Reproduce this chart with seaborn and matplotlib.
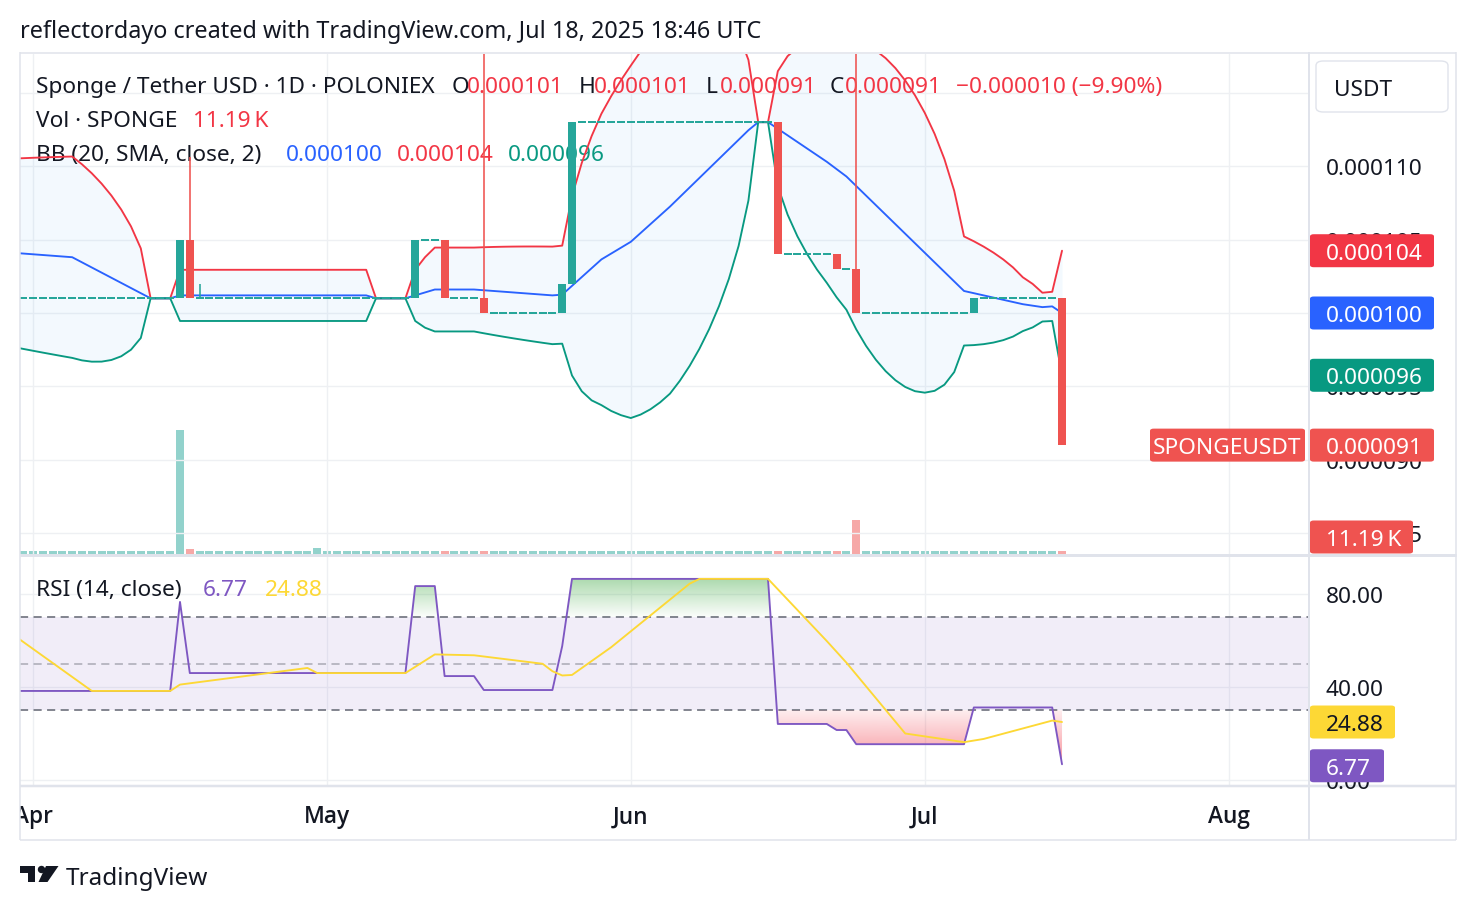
import numpy as np
import pandas as pd
import matplotlib
matplotlib.use("Agg")
import matplotlib.pyplot as plt
import seaborn as sns
from matplotlib.patches import FancyBboxPatch, Polygon, Ellipse
from matplotlib.lines import Line2D
from matplotlib.path import Path

# ---------------- data: prices in 1e-6 USDT, day 0 = 2025-04-01 ----------------
days = list(range(-22, 106))

opens = [
    102, 102, 102, 102, 102, 102, 102, 102,
    108, 108, 108, 108, 108, 108, 108,
    108,
    101, 101, 101, 101, 101, 101, 101, 101, 101, 101, 101,
    101, 101, 101, 101, 101, 101, 101, 101, 101, 101, 101,
    105,
    101, 101, 101, 101, 101, 101, 101, 101, 101, 101, 101, 101,
    101, 101, 101, 101, 101, 101, 101, 101, 101, 101, 101,
    105, 105, 105,
    101, 101, 101, 101,
    100, 100, 100, 100, 100, 100, 100, 100,
    102,
    113, 113, 113, 113, 113, 113, 113, 113, 113, 113, 113,
    113, 113, 113, 113, 113, 113, 113, 113, 113, 113,
    104, 104, 104, 104, 104, 104,
    103, 103,
    100, 100, 100, 100, 100, 100, 100, 100, 100, 100, 100, 100,
    101, 101, 101, 101, 101, 101, 101, 101, 101,
]

closes = [
    102, 102, 102, 102, 102, 102, 102,
    108, 108, 108, 108, 108, 108, 108, 108,
    101, 101, 101, 101, 101, 101, 101, 101, 101, 101, 101,
    101, 101, 101, 101, 101, 101, 101, 101, 101, 101, 101,
    105,
    101, 101,
    101, 101, 101, 101, 101, 101, 101, 101, 101, 101, 101,
    101, 101, 101, 101, 101, 101, 101, 101, 101, 101,
    105, 105, 105,
    101, 101, 101, 101,
    100, 100, 100, 100, 100, 100, 100, 100,
    102,
    113, 113, 113, 113, 113, 113, 113, 113, 113, 113, 113,
    113, 113, 113, 113, 113, 113, 113, 113, 113, 113,
    104, 104, 104, 104, 104, 104,
    103, 103,
    100, 100, 100, 100, 100, 100, 100, 100, 100, 100, 100, 100,
    101, 101, 101, 101, 101, 101, 101, 101, 101,
    91,
]

wick_days = [16, 17, 46, 84]
wick_highs = [110.6, 102.0, 125.0, 125.0]

volumes_k = [
    9.5, 9.5, 9.5, 9.5, 9.5, 9.5, 9.5, 9.5, 9.5, 9.5, 9.5, 9.5, 9.5,
    9.5, 9.5, 9.5, 9.5, 9.5, 9.5, 9.5, 9.5, 9.5, 9.5, 9.5, 9.5, 9.5,
    9.5, 9.5, 9.5, 9.5, 9.5, 9.5, 9.5, 9.5, 9.5, 9.5, 9.5,
    450.0, 18.0,
    9.5, 9.5, 9.5, 9.5, 9.5, 9.5, 9.5, 9.5, 9.5, 9.5, 9.5, 9.5,
    22.0,
    9.5, 9.5, 9.5, 9.5, 9.5, 9.5, 9.5, 9.5, 9.5, 9.5, 9.5, 9.5, 9.5, 9.5,
    9.5, 9.5, 9.5, 9.5, 9.5, 9.5, 9.5, 9.5, 9.5, 9.5, 9.5, 9.5, 9.5, 9.5,
    9.5, 9.5, 9.5, 9.5, 9.5, 9.5, 9.5, 9.5, 9.5, 9.5, 9.5, 9.5, 9.5, 9.5,
    9.5, 9.5, 9.5, 9.5, 9.5, 9.5, 9.5, 9.5, 9.5, 9.5, 9.5, 9.5,
    123.0,
    9.5, 9.5, 9.5, 9.5, 9.5, 9.5, 9.5, 9.5, 9.5, 9.5,
    9.5, 9.5, 9.5, 9.5, 9.5, 9.5, 9.5, 9.5, 9.5, 9.5,
    11.19,
]

rsi_values = [
    80.5, 80.5, 80.5, 80.5, 80.5, 80.5, 80.5, 80.5, 80.5, 80.5, 80.5, 80.5, 80.5, 80.5, 80.5,
    38.3, 38.3, 38.3, 38.3, 38.3, 38.3, 38.3, 38.3, 38.3, 38.3, 38.3,
    38.3, 38.3, 38.3, 38.3, 38.3, 38.3, 38.3, 38.3, 38.3, 38.3, 38.3,
    76.6,
    46.0, 46.0, 46.0, 46.0, 46.0, 46.0, 46.0, 46.0, 46.0, 46.0, 46.0, 46.0,
    46.0, 46.0, 46.0, 46.0, 46.0, 46.0, 46.0, 46.0, 46.0, 46.0, 46.0,
    83.4, 83.4, 83.4,
    44.7, 44.7, 44.7, 44.7,
    38.7, 38.7, 38.7, 38.7, 38.7, 38.7, 38.7, 38.7,
    57.6,
    86.5, 86.5, 86.5, 86.5, 86.5, 86.5, 86.5, 86.5, 86.5, 86.5, 86.5,
    86.5, 86.5, 86.5, 86.5, 86.5, 86.5, 86.5, 86.5, 86.5, 86.5,
    24.1, 24.1, 24.1, 24.1, 24.1, 24.1,
    21.5, 21.5,
    15.4, 15.4, 15.4, 15.4, 15.4, 15.4, 15.4, 15.4, 15.4, 15.4, 15.4, 15.4,
    31.2, 31.2, 31.2, 31.2, 31.2, 31.2, 31.2, 31.2, 31.2,
    6.77,
]

assert len(days) == len(opens) == len(closes) == len(volumes_k) == len(rsi_values) == 128

month_days = [0, 30, 61, 91, 122]
month_labels = ["Apr", "May", "Jun", "Jul", "Aug"]
price_grid = [85, 90, 95, 100, 105, 110, 115]
rsi_grid = [0, 40, 80]

# ---------------- styling ----------------
sns.set_theme(style="white")
plt.rcParams["font.family"] = ["Noto Sans", "DejaVu Sans"]

W, H = 1476, 912
FS = 16.3
DY = 2.5          # text baseline nudge (px)
DARK = "#131722"
GREEN = "#26a69a"
RED = "#ef5350"
GRID = "#eef0f3"
BORDER = "#e0e3eb"
LW = 1.35

fig = plt.figure(figsize=(W / 100, H / 100), dpi=100)
fig.patch.set_facecolor("white")


def rect(x0, y0, x1, y1):
    return [x0 / W, 1 - y1 / H, (x1 - x0) / W, (y1 - y0) / H]


def pf(x, y):
    return x / W, 1 - y / H


XL = (-1.327, 130.1)
ax_vol = fig.add_axes(rect(20, 55, 1308, 555))
ax_main = fig.add_axes(rect(20, 55, 1308, 555))
ax_rsi = fig.add_axes(rect(20, 557, 1308, 786))
ax_time = fig.add_axes(rect(20, 788, 1308, 841))
ax_vol.set_zorder(0)
ax_main.set_zorder(1)

d = np.array(days, float)
o = np.array(opens, float)
c = np.array(closes, float)
up = c >= o

# ---------------- volume ----------------
vcol = [GREEN if u else RED for u in up]
ax_vol.bar(d, volumes_k, width=0.8, color=vcol, alpha=0.5, lw=0)
ax_vol.set_ylim(0, 1815)
ax_vol.set_xlim(*XL)

# ---------------- main pane ----------------
for g in price_grid:
    ax_main.axhline(g, color=GRID, lw=1.0, zorder=0.2)
for m in month_days:
    ax_main.axvline(m, color=GRID, lw=1.0, zorder=0.2)

s = pd.Series(closes, dtype=float)
mid = s.rolling(20).mean()
sd = s.rolling(20).std(ddof=0)
bb = pd.DataFrame({"day": d, "basis": mid, "upper": mid + 2 * sd, "lower": mid - 2 * sd})
ax_main.fill_between(bb["day"], bb["lower"], bb["upper"], color="#2196f3", alpha=0.05, lw=0, zorder=1)
sns.lineplot(data=bb, x="day", y="upper", ax=ax_main, color="#f23645", lw=LW, zorder=2, estimator=None, sort=False)
sns.lineplot(data=bb, x="day", y="basis", ax=ax_main, color="#2962ff", lw=LW, zorder=2, estimator=None, sort=False)
sns.lineplot(data=bb, x="day", y="lower", ax=ax_main, color="#089981", lw=LW, zorder=2, estimator=None, sort=False)

blo = np.minimum(o, c)
bhi = np.maximum(o, c)
min_h = 2.0 / 14.68
flat = (bhi - blo) < min_h
heights = np.where(flat, min_h, bhi - blo)
bottoms = np.where(flat, (blo + bhi) / 2 - min_h / 2, blo)
ccol = [GREEN if u else RED for u in up]
ax_main.bar(d, heights, bottom=bottoms, width=0.8, color=ccol, lw=0, zorder=3)
for wd, wh in zip(wick_days, wick_highs):
    i = days.index(wd)
    ax_main.vlines(wd, bhi[i], wh, color=ccol[i], lw=1.15, zorder=2.9)

ax_main.set_xlim(*XL)
ax_main.set_ylim(100 - 241 / 14.68, 100 + 259 / 14.68)

# ---------------- RSI pane ----------------
rsi = pd.Series(rsi_values, dtype=float)
rsi_ma = rsi.rolling(14).mean()
rdf = pd.DataFrame({"day": d, "rsi": rsi, "ma": rsi_ma})

for g in rsi_grid:
    ax_rsi.axhline(g, color=GRID, lw=1.0, zorder=0.2)
for m in month_days:
    ax_rsi.axvline(m, color=GRID, lw=1.0, zorder=0.2)
ax_rsi.axhspan(30, 70, color="#7e57c2", alpha=0.1, lw=0, zorder=0.5)
ax_rsi.axhline(70, color="#787b86", lw=1.3, dashes=(4.5, 3.0), zorder=0.8)
ax_rsi.axhline(30, color="#787b86", lw=1.3, dashes=(4.5, 3.0), zorder=0.8)
ax_rsi.axhline(50, color="#787b86", lw=1.3, alpha=0.5, dashes=(4.5, 3.0), zorder=0.8)


def gradient_fill(ax, x, y, level, above, rgb, v_a, v_b, a_a, a_b):
    x = np.asarray(x, float)
    y = np.asarray(y, float)
    if above:
        coll = ax.fill_between(x, level, y, where=y >= level, interpolate=True,
                               facecolor="none", edgecolor="none")
    else:
        coll = ax.fill_between(x, y, level, where=y <= level, interpolate=True,
                               facecolor="none", edgecolor="none")
    paths = [p for p in coll.get_paths() if len(p.vertices) > 0]
    if not paths:
        return
    clip = Path.make_compound_path(*paths)
    n = 256
    lo, hi = min(v_a, v_b), max(v_a, v_b)
    vals = np.linspace(lo, hi, n)
    alphas = np.interp(vals, [lo, hi], [a_a, a_b] if v_a < v_b else [a_b, a_a])
    img = np.zeros((n, 1, 4))
    img[..., 0], img[..., 1], img[..., 2] = rgb
    img[:, 0, 3] = alphas
    im = ax.imshow(img, extent=[x.min(), x.max(), lo, hi], origin="lower",
                   aspect="auto", interpolation="bilinear", zorder=1)
    im.set_clip_path(clip, ax.transData)


gradient_fill(ax_rsi, d, rsi.values, 70, True, (76 / 255, 175 / 255, 80 / 255), 70, 87, 0.02, 0.48)
gradient_fill(ax_rsi, d, rsi.values, 30, False, (242 / 255, 54 / 255, 69 / 255), 30, 8, 0.08, 0.5)

sns.lineplot(data=rdf, x="day", y="rsi", ax=ax_rsi, color="#7e57c2", lw=LW, zorder=2, estimator=None, sort=False)
sns.lineplot(data=rdf, x="day", y="ma", ax=ax_rsi, color="#fdd835", lw=LW, zorder=2.5, estimator=None, sort=False)
ax_rsi.set_xlim(*XL)
ax_rsi.set_ylim(80 - (786 - 595) / 2.325, 80 + (595 - 557) / 2.325)

# ---------------- time axis ----------------
ax_time.set_xlim(*XL)
ax_time.set_ylim(0, 53)
for m, lab in zip(month_days, month_labels):
    ax_time.text(m, 53 - (815 + DY - 788), lab, ha="center", va="center", fontsize=FS,
                 fontweight="semibold", family=["Open Sans", "DejaVu Sans"],
                 color=DARK, clip_on=True)

for a in (ax_vol, ax_main, ax_rsi, ax_time):
    a.set_facecolor("none")
    for sp in a.spines.values():
        sp.set_visible(False)
    a.set_xticks([])
    a.set_yticks([])
    a.set_xlabel("")
    a.set_ylabel("")
    a.grid(False)


# ---------------- frame lines ----------------
def fline(x0, y0, x1, y1, color=BORDER, lw_px=1.5, z=4):
    fig.add_artist(Line2D([x0 / W, x1 / W], [1 - y0 / H, 1 - y1 / H], transform=fig.transFigure,
                          color=color, lw=lw_px * 0.72, zorder=z, solid_capstyle="butt"))


fline(20, 53.5, 1456, 53.5)
fline(20, 841, 1456, 841)
fline(20, 53, 20, 841)
fline(1456, 53, 1456, 841)
fline(20, 556, 1456, 556, lw_px=3)
fline(20, 787, 1456, 787, lw_px=2.5)
fline(1308.5, 53, 1308.5, 841, lw_px=2)


# ---------------- texts ----------------
def ypx(ax, v):
    return H - ax.transData.transform((0, v))[1]


def legend_text(ax, x, y, s, color=DARK):
    fx, fy = pf(x, y + DY)
    ax.text(fx, fy, s, transform=fig.transFigure, color=color, fontsize=FS,
            ha="left", va="center", zorder=1.5, clip_on=False)


fig.text(*pf(20, 30 + DY), "reflectordayo created with TradingView.com, Jul 18, 2025 18:46 UTC",
         color=DARK, fontsize=16.85, ha="left", va="center")

TVRED = "#f23645"
legend_text(ax_main, 36, 85, "Sponge / Tether USD · 1D · POLONIEX")
legend_text(ax_main, 452, 85, "O")
legend_text(ax_main, 467, 85, "0.000101", TVRED)
legend_text(ax_main, 579, 85, "H")
legend_text(ax_main, 594, 85, "0.000101", TVRED)
legend_text(ax_main, 706, 85, "L")
legend_text(ax_main, 720, 85, "0.000091", TVRED)
legend_text(ax_main, 830, 85, "C")
legend_text(ax_main, 845, 85, "0.000091", TVRED)
legend_text(ax_main, 956, 85, "\u22120.000010 (\u22129.90%)", TVRED)
legend_text(ax_main, 36, 119, "Vol · SPONGE")
legend_text(ax_main, 193, 119, "11.19\u2009K", TVRED)
legend_text(ax_main, 36, 153, "BB (20, SMA, close, 2)")
legend_text(ax_main, 286, 153, "0.000100", "#2962ff")
legend_text(ax_main, 397, 153, "0.000104", TVRED)
legend_text(ax_main, 508, 153, "0.000096", "#089981")

legend_text(ax_rsi, 36, 588, "RSI (14, close)")
legend_text(ax_rsi, 203, 588, "6.77", "#7e57c2")
legend_text(ax_rsi, 265, 588, "24.88", "#fdd835")

# price scale labels
for g in price_grid:
    fig.text(*pf(1326, ypx(ax_main, g) + DY), f"{g * 1e-6:.6f}", color=DARK, fontsize=FS,
             ha="left", va="center", zorder=4)
for g in rsi_grid:
    fig.text(*pf(1326, ypx(ax_rsi, g) + DY), f"{g:.2f}", color=DARK, fontsize=FS,
             ha="left", va="center", zorder=4)


def tag(y, text, fc, tc, x0=1310, x1=1434, tx=1326, h=33, ha="left"):
    p = FancyBboxPatch((x0 / W, 1 - (y + h / 2) / H), (x1 - x0) / W, h / H,
                       boxstyle="round,pad=0,rounding_size=0.0025", transform=fig.transFigure,
                       fc=fc, ec="none", zorder=6)
    fig.add_artist(p)
    fig.text(*pf(tx, y + DY), text, color=tc, fontsize=FS, ha=ha, va="center", zorder=7)


# USDT box
fig.add_artist(FancyBboxPatch((1316 / W, 1 - 113 / H), 132 / W, 51 / H,
                              boxstyle="round,pad=0,rounding_size=0.005", transform=fig.transFigure,
                              fc="white", ec=BORDER, lw=1.0, zorder=6))
fig.text(*pf(1334, 88 + DY), "USDT", color=DARK, fontsize=FS, ha="left", va="center", zorder=7)

last_close = closes[-1]
basis_last = bb["basis"].iloc[-1]
upper_last = bb["upper"].iloc[-1]
lower_last = bb["lower"].iloc[-1]

tag(ypx(ax_main, upper_last), "0.000104", "#f23645", "white")
tag(ypx(ax_main, basis_last), "0.000100", "#2962ff", "white")
tag(ypx(ax_main, lower_last), "0.000096", "#089981", "white")
y_last = ypx(ax_main, last_close)
tag(y_last, "0.000091", RED, "white")
tag(y_last, "SPONGEUSDT", RED, "white", x0=1150, x1=1305, tx=1227.5, ha="center")
y_vol = min(ypx(ax_vol, volumes_k[-1]), 555 - 17)
tag(y_vol, "11.19\u2009K", RED, "white", x1=1413)
tag(ypx(ax_rsi, rsi_ma.iloc[-1]), "24.88", "#fdd835", DARK, x1=1395)
tag(ypx(ax_rsi, rsi_values[-1]) + 1.5, "6.77", "#7e57c2", "white", x1=1384)


# ---------------- TradingView logo ----------------
def fpoly(pts, color=DARK, z=5):
    fig.add_artist(Polygon([pf(x, y) for x, y in pts], closed=True, transform=fig.transFigure,
                           fc=color, ec="none", zorder=z))


fpoly([(20, 867), (35, 867), (35, 883), (28, 883), (28, 874), (20, 874)])
fig.add_artist(Ellipse(pf(41.5, 870.5), 7.4 / W, 7.4 / H, transform=fig.transFigure, fc=DARK, ec="none", zorder=5))
fpoly([(46, 867), (58.5, 867), (47.5, 883), (38.5, 883)])
fig.text(*pf(66, 877 + DY), "TradingView", color=DARK, fontsize=17.5, ha="left", va="center")

fig.savefig("out.png", dpi=100, facecolor="white")
